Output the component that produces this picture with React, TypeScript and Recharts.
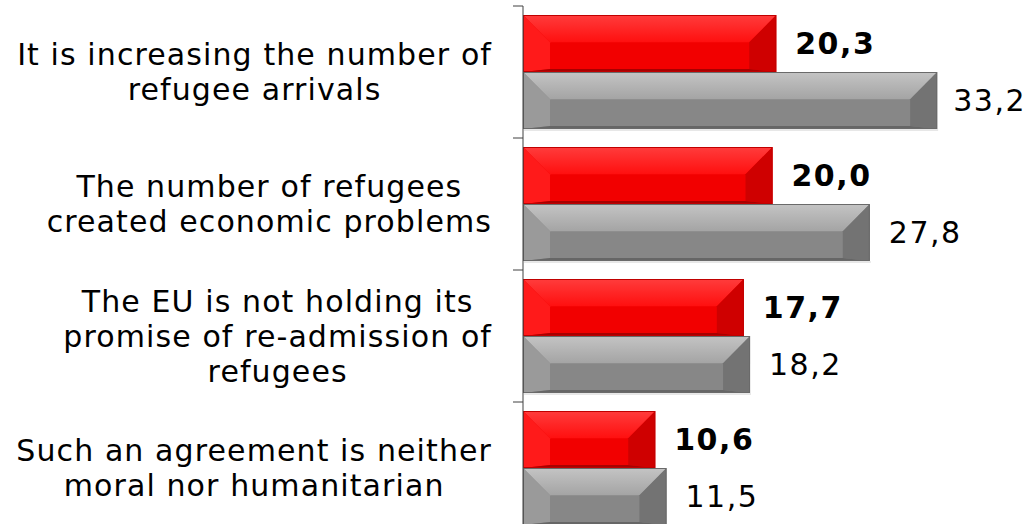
import { BarChart, Bar, XAxis, YAxis, LabelList } from "recharts";

const categories = [
  "It is increasing the number of\nrefugee arrivals",
  "The number of refugees\ncreated economic problems",
  "The EU is not holding its\npromise of re-admission of\nrefugees",
  "Such an agreement is neither\nmoral nor humanitarian",
];
const redValues = [20.3, 20.0, 17.7, 10.6];
const greyValues = [33.2, 27.8, 18.2, 11.5];
const xDomain = [0, 40];

const data = categories.map((label, i) => ({
  label,
  red: redValues[i],
  grey: greyValues[i],
}));

const CHART_W = 1034;
const CHART_H = 540;
const MARGIN = { top: 6, right: 12, bottom: 6, left: 0 };
const AXIS_W = 523;
const BAND = (CHART_H - MARGIN.top - MARGIN.bottom) / categories.length;
const FONT = '"DejaVu Sans", Verdana, sans-serif';
const FONT_SIZE = 30;
const LETTER_SP = 1.1;
const VALUE_SP = 1.5;

let measureCtx: CanvasRenderingContext2D | null = null;
function textWidth(s: string, bold = false, sp = LETTER_SP) {
  if (!measureCtx) measureCtx = document.createElement("canvas").getContext("2d");
  const base = measureCtx
    ? ((measureCtx.font = `${bold ? "bold " : ""}${FONT_SIZE}px ${FONT}`),
      measureCtx.measureText(s).width)
    : s.length * FONT_SIZE * 0.6;
  return base + sp * s.length;
}

const fmt = (v: number) => v.toFixed(1).replace(".", ",");

const palettes = {
  red: {
    topA: "#ff3c3c",
    topB: "#ff0f0f",
    left: "#ff1a1a",
    face: "#f20000",
    right: "#cf0000",
    bottom: "#a80000",
    stroke: "#c00000",
  },
  grey: {
    topA: "#c4c4c4",
    topB: "#a4a4a4",
    left: "#9a9a9a",
    face: "#878787",
    right: "#737373",
    bottom: "#666666",
    stroke: "#6a6a6a",
  },
};

const makeBevel = (key: "red" | "grey") => (props: any) => {
  const { x, y, width: w, height: h } = props;
  if (!w || w <= 0) return null;
  const p = palettes[key];
  const b = Math.min(27, w / 2);
  const t = h * 0.48;
  const bb = 3;
  return (
    <g>
      <rect x={x} y={y} width={w} height={h} fill={p.face} />
      <polygon
        points={`${x},${y} ${x + w},${y} ${x + w - b},${y + t} ${x + b},${y + t}`}
        fill={`url(#top-${key})`}
      />
      <polygon
        points={`${x},${y} ${x + b},${y + t} ${x + b},${y + h - bb} ${x},${y + h}`}
        fill={p.left}
      />
      <polygon
        points={`${x + w},${y} ${x + w - b},${y + t} ${x + w - b},${y + h - bb} ${x + w},${y + h}`}
        fill={p.right}
      />
      <polygon
        points={`${x},${y + h} ${x + b},${y + h - bb} ${x + w - b},${y + h - bb} ${x + w},${y + h}`}
        fill={p.bottom}
      />
      <rect x={x + 0.5} y={y + 0.5} width={w - 1} height={h - 1} fill="none" stroke={p.stroke} strokeWidth={1} />
      <line x1={x + 1} x2={x + w + 1} y1={y + h + 1} y2={y + h + 1} stroke="#d0d0d0" strokeWidth={1} />
    </g>
  );
};

const CategoryTick = (props: any) => {
  const { x, y, payload } = props;
  const lines = String(payload.value).split("\n");
  const maxW = Math.max(...lines.map((l) => textWidth(l)));
  const cx = x - 23 - maxW / 2;
  const lh = 35;
  const y0 = y - ((lines.length - 1) * lh) / 2;
  return (
    <g>
      <line x1={x - 2} x2={x + 8} y1={y - BAND / 2} y2={y - BAND / 2} stroke="#404040" />
      <text
        x={cx}
        y={y0}
        textAnchor="middle"
        fontFamily={FONT}
        fontSize={FONT_SIZE}
        letterSpacing={LETTER_SP}
        fill="#000"
      >
        {lines.map((l, i) => (
          <tspan key={i} x={cx} y={y0 + i * lh} dy="0.36em">
            {l}
          </tspan>
        ))}
      </text>
    </g>
  );
};

const makeValueLabel = (bold: boolean) => (props: any) => {
  const { x, y, width, height, value } = props;
  const s = fmt(Number(value));
  const w = textWidth(s, bold, VALUE_SP);
  let lx = x + width + 19;
  if (lx + w > CHART_W - 8) lx = CHART_W - 8 - w;
  return (
    <text
      x={lx}
      y={y + height / 2}
      dy="0.36em"
      fontFamily={FONT}
      fontSize={FONT_SIZE}
      letterSpacing={VALUE_SP}
      fontWeight={bold ? "bold" : "normal"}
      fill="#000"
    >
      {s}
    </text>
  );
};

export default function App() {
  return (
    <div
      style={{
        position: "absolute",
        left: 0,
        top: 0,
        width: CHART_W,
        height: 524,
        overflow: "hidden",
        background: "#fff",
      }}
    >
      <BarChart
        width={CHART_W}
        height={CHART_H}
        data={data}
        layout="vertical"
        margin={MARGIN}
        barCategoryGap={9}
        barGap={0}
      >
        <defs>
          <linearGradient id="top-red" x1="0" y1="0" x2="0" y2="1">
            <stop offset="0%" stopColor={palettes.red.topA} />
            <stop offset="100%" stopColor={palettes.red.topB} />
          </linearGradient>
          <linearGradient id="top-grey" x1="0" y1="0" x2="0" y2="1">
            <stop offset="0%" stopColor={palettes.grey.topA} />
            <stop offset="100%" stopColor={palettes.grey.topB} />
          </linearGradient>
        </defs>
        <XAxis type="number" domain={xDomain} hide />
        <YAxis
          type="category"
          dataKey="label"
          width={AXIS_W}
          axisLine={{ stroke: "#404040" }}
          tickLine={false}
          tick={<CategoryTick />}
          interval={0}
        />
        <Bar dataKey="red" shape={makeBevel("red")} isAnimationActive={false}>
          <LabelList dataKey="red" content={makeValueLabel(true)} />
        </Bar>
        <Bar dataKey="grey" shape={makeBevel("grey")} isAnimationActive={false}>
          <LabelList dataKey="grey" content={makeValueLabel(false)} />
        </Bar>
      </BarChart>
    </div>
  );
}
